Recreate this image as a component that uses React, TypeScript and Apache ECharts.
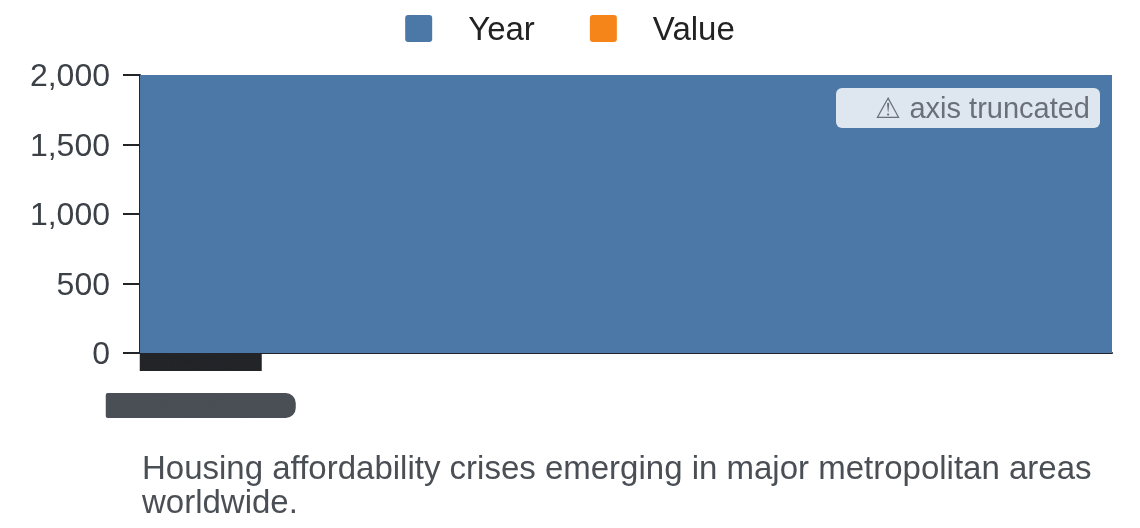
import React, { useEffect, useRef } from "react";
import * as echarts from "echarts";

const categories = ["Hong Kong", "Vancouver", "Sydney", "San Francisco", "London", "Toronto", "Auckland", "Los Angeles"];
const yearValues = [2016, 2017, 2018, 2019, 2020, 2021, 2022, 2023];
const valueValues = [3.1, 3.4, 3.2, 3.8, 4.1, 4.5, 4.9, 5.2];
const yTicks = [0, 500, 1000, 1500, 2000];
const caption = "Housing affordability crises emerging in major metropolitan areas worldwide.";
const FONT = "'Liberation Sans', Arial, sans-serif";
const ICON = "path://M3,0 H24 A3,3 0 0 1 27,3 V24 A3,3 0 0 1 24,27 H3 A3,3 0 0 1 0,24 V3 A3,3 0 0 1 3,0 Z";

export default function App() {
  const ref = useRef<HTMLDivElement>(null);
  useEffect(() => {
    const chart = echarts.init(ref.current!, undefined, { renderer: "svg" });
    chart.setOption({
      animation: false,
      textStyle: { fontFamily: FONT },
      legend: {
        top: 7,
        left: "center",
        itemWidth: 27,
        itemHeight: 27,
        itemGap: 55,
        icon: ICON,
        textStyle: { fontSize: 33, color: "#222222", padding: [0, 0, 0, 31], fontFamily: FONT },
        data: ["Year", "Value"],
      },
      grid: { left: 140, right: 28, top: 75, bottom: 175, containLabel: false },
      xAxis: {
        type: "category",
        data: categories,
        axisLine: { show: true, lineStyle: { color: "#222428", width: 2 } },
        axisTick: { show: false },
        splitLine: { show: false },
        splitArea: { show: false },
        axisLabel: {
          interval: (i: number) => i === 0,
          margin: 0,
          verticalAlign: "top",
          formatter: (v: string) => `{box|${v}}\n{gap| }\n{blob|${v}}`,
          rich: {
            box: { width: 122, height: 18, lineHeight: 18, backgroundColor: "#222428", color: "#222428", fontSize: 12 },
            gap: { height: 22, lineHeight: 22, fontSize: 12 },
            blob: { width: 190, height: 25, lineHeight: 25, backgroundColor: "#4a4f55", color: "#4a4f55", fontSize: 22, fontStyle: "italic", borderRadius: [2, 10, 10, 2] },
          },
        },
      },
      yAxis: {
        type: "value",
        min: yTicks[0],
        max: yTicks[yTicks.length - 1],
        interval: 500,
        axisLine: { show: true, lineStyle: { color: "#222428", width: 2 } },
        axisTick: { show: true, length: 17, lineStyle: { color: "#222428", width: 2 } },
        splitLine: { show: false },
        axisLabel: {
          fontSize: 32,
          color: "#3c4148",
          margin: 30,
          fontFamily: FONT,
          formatter: (v: number) => v.toLocaleString("en-US"),
        },
      },
      series: [
        {
          name: "Year",
          type: "bar",
          data: yearValues,
          z: 3,
          clip: true,
          barWidth: 125,
          barGap: "-100%",
          itemStyle: { color: "#4c78a8" },
        },
        {
          name: "Value",
          type: "bar",
          data: valueValues,
          z: 2,
          clip: true,
          barWidth: 125,
          itemStyle: { color: "#f58518" },
        },
      ],
      graphic: [
        {
          type: "group",
          right: 40,
          top: 88,
          z: 100,
          children: [
            { type: "rect", z: 100, shape: { x: 0, y: 0, width: 264, height: 40, r: 6 }, style: { fill: "rgba(255,255,255,0.82)" } },
            {
              type: "text",
              z: 101,
              x: 254,
              y: 20,
              style: { text: "⚠ axis truncated", fill: "#6b7078", font: `29px ${FONT}`, align: "right", verticalAlign: "middle" },
            },
          ],
        },
        {
          type: "text",
          left: 142,
          top: 450,
          z: 100,
          style: { text: caption, width: 960, overflow: "break", fill: "#4a4f55", font: `33px ${FONT}`, lineHeight: 34 },
        },
      ],
    });
    return () => chart.dispose();
  }, []);
  return <div ref={ref} style={{ position: "fixed", left: 0, top: 0, width: 1140, height: 528 }} />;
}
